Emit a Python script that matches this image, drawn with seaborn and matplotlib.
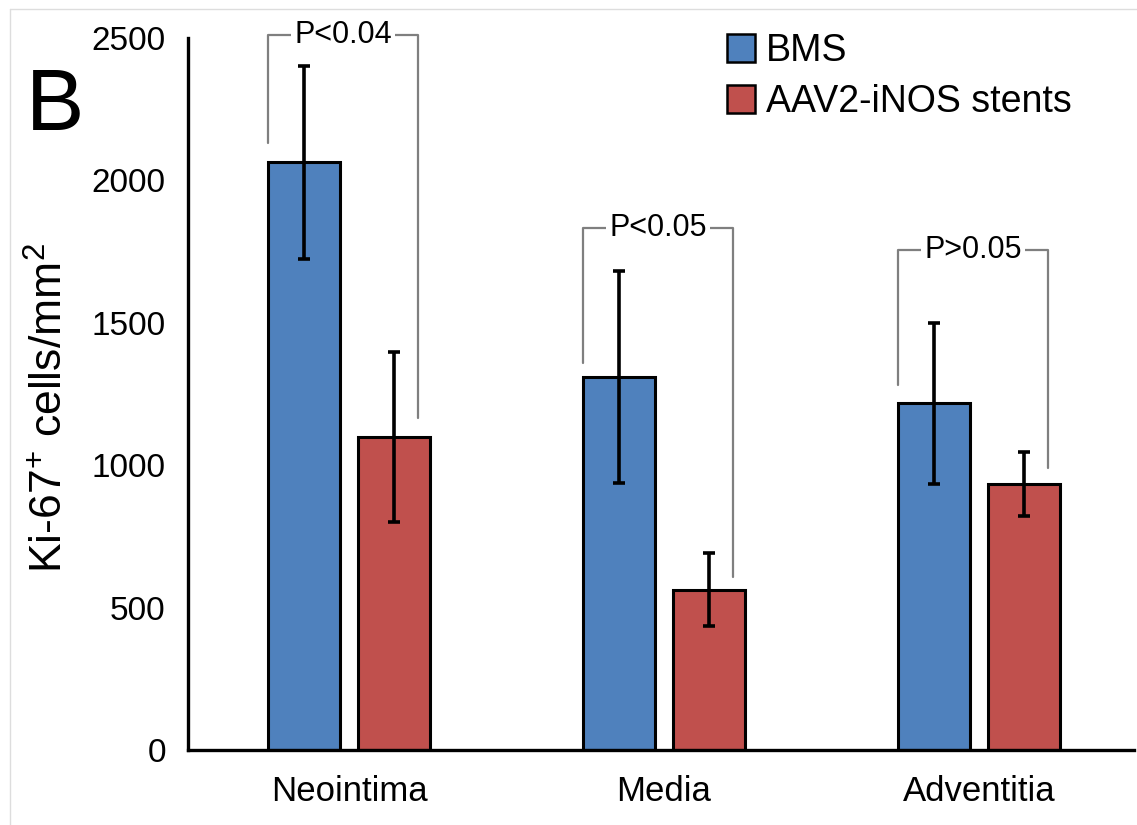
import matplotlib
matplotlib.use("Agg")
import matplotlib.pyplot as plt
from matplotlib.lines import Line2D
import seaborn as sns
import pandas as pd
import numpy as np

# ---- data ----
categories = ["Neointima", "Media", "Adventitia"]
groups = ["BMS", "AAV2-iNOS stents"]
bms_mean = [2063, 1310, 1218]
bms_err = [339, 372, 283]
aav_mean = [1099, 562, 934]
aav_err = [300, 128, 114]
p_labels = ["P<0.04", "P<0.05", "P>0.05"]
bracket_top = [2511, 1833, 1756]
bracket_left_end = [2130, 1360, 1280]
bracket_right_end = [1165, 607, 990]
colors = ["#4F81BD", "#C0504D"]

df = pd.DataFrame({
    "region": categories * 2,
    "group": [groups[0]] * 3 + [groups[1]] * 3,
    "value": bms_mean + aav_mean,
})
errs = {groups[0]: bms_err, groups[1]: aav_err}

sns.set_theme(style="white")
plt.rcParams["font.family"] = ["Liberation Sans", "DejaVu Sans"]
plt.rcParams["mathtext.default"] = "regular"
plt.rcParams["text.color"] = "black"
plt.rcParams["xtick.color"] = "black"
plt.rcParams["ytick.color"] = "black"

W, H = 1137, 825
fig = plt.figure(figsize=(W / 100, H / 100), dpi=100)
ax = fig.add_axes([188 / W, 1 - 750 / H, (1134 - 188) / W, (750 - 38) / H])

sns.barplot(data=df, x="region", y="value", hue="group", order=categories,
            hue_order=groups, palette=colors, saturation=1, errorbar=None,
            width=0.57, gap=0.2, edgecolor="black", linewidth=2.2, ax=ax)

# error bars at bar centres
for cont, g in zip(ax.containers, groups):
    xs = [p.get_x() + p.get_width() / 2 for p in cont.patches]
    ys = [p.get_height() for p in cont.patches]
    ax.errorbar(xs, ys, yerr=errs[g], fmt="none", ecolor="black",
                elinewidth=2.6, capsize=4, capthick=2.6, zorder=5)

ax.set_ylim(0, 2500)
ax.set_xlim(-0.511, 2.492)
ax.set_yticks([0, 500, 1000, 1500, 2000, 2500])
ax.set_xlabel("")
ax.set_ylabel("")
ax.tick_params(axis="y", length=0, pad=16, labelsize=24, labelcolor="black")
ax.tick_params(axis="x", length=0, pad=18, labelsize=25, labelcolor="black")
for s in ["top", "right"]:
    ax.spines[s].set_visible(False)
for s in ["left", "bottom"]:
    ax.spines[s].set_color("black")
    ax.spines[s].set_linewidth(2.4)

# brackets
bms_bars = ax.containers[0].patches
aav_bars = ax.containers[1].patches
for i in range(3):
    b, a = bms_bars[i], aav_bars[i]
    xl = b.get_x()
    xr = a.get_x() + a.get_width() * 0.83
    top = bracket_top[i]
    ax.plot([xl, xl, xr, xr], [bracket_left_end[i], top, top, bracket_right_end[i]],
            color="#7F7F7F", lw=1.6, clip_on=False, zorder=3)
    ax.text((xl + xr) / 2, top, p_labels[i], ha="center", va="center",
            fontsize=22, color="black", zorder=4, clip_on=False,
            bbox=dict(facecolor="white", edgecolor="none", pad=2.5))

# legend
handles, labels = ax.get_legend_handles_labels()
for h in handles:
    h.set_edgecolor("black")
    h.set_linewidth(1.8)
leg = ax.legend(handles, labels, loc="upper left",
                bbox_to_anchor=(712 / W, 1 - 18 / H), bbox_transform=fig.transFigure,
                frameon=False, fontsize=27, handlelength=0.75, handleheight=0.75,
                handletextpad=0.3, labelspacing=0.4, borderaxespad=0)
for t in leg.get_texts():
    t.set_color("black")

# y label and panel letter
fig.text(50 / W, 1 - 408 / H, "Ki-67$^{+}$ cells/mm$^{2}$", rotation=90,
         ha="center", va="center", fontsize=32, color="black")
fig.text(26 / W, 1 - 130 / H, "B", fontsize=63, ha="left", va="baseline",
         color="black")

# faint image frame
fig.add_artist(Line2D([10 / W, 10 / W], [0, 1 - 9 / H], transform=fig.transFigure,
                      color="#DDDDDD", lw=1))
fig.add_artist(Line2D([10 / W, 1], [1 - 9 / H, 1 - 9 / H], transform=fig.transFigure,
                      color="#DDDDDD", lw=1))

fig.savefig("out.png", dpi=100)
